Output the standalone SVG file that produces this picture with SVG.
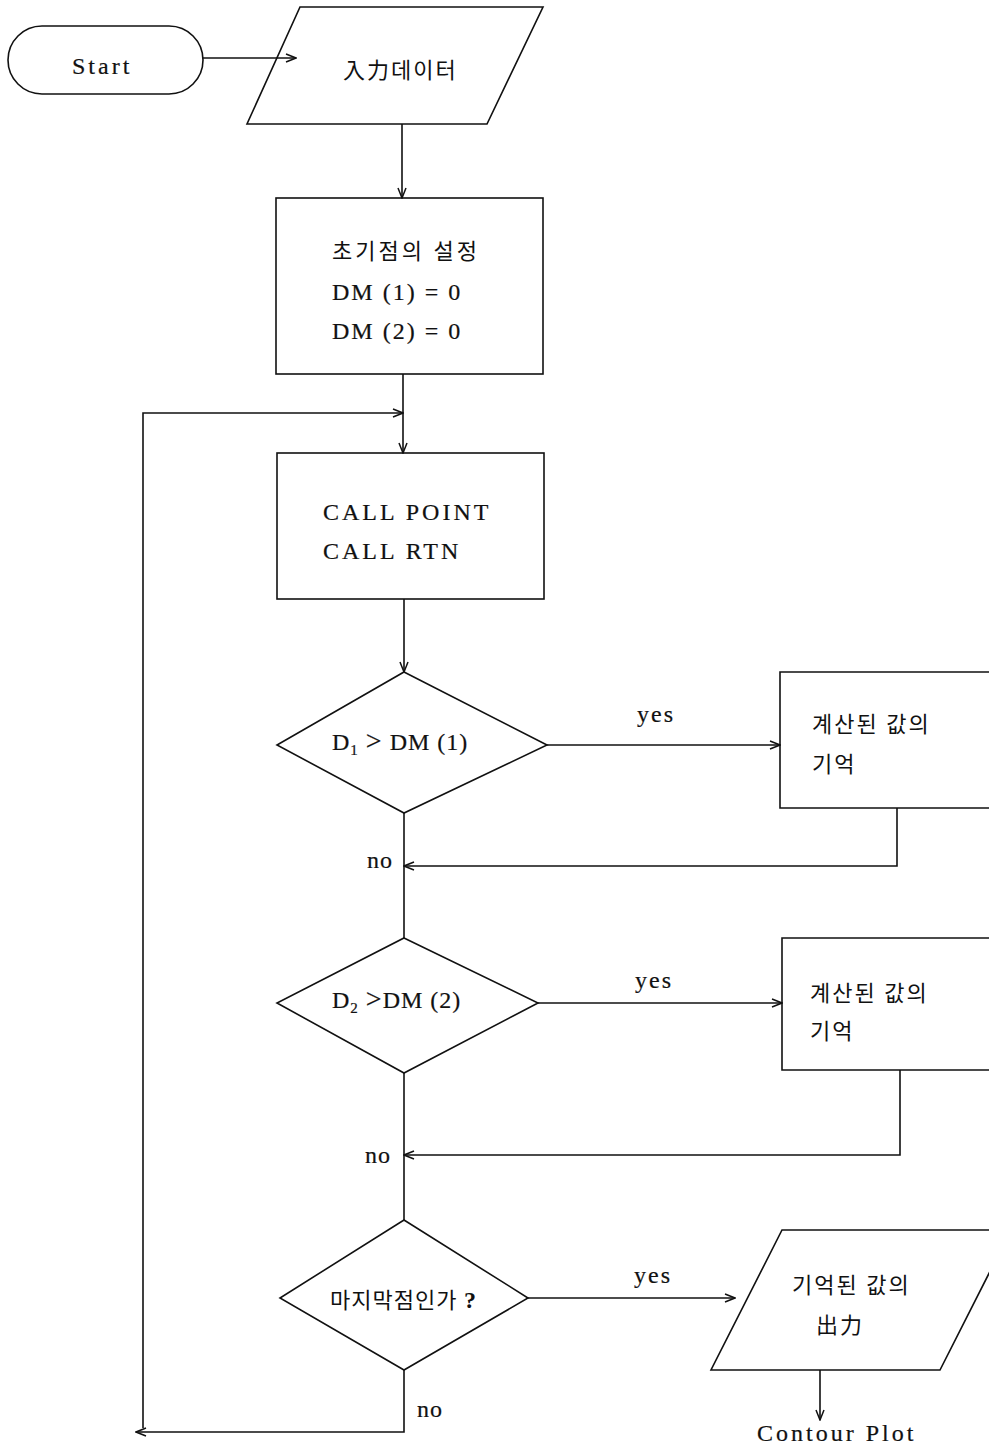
<svg xmlns="http://www.w3.org/2000/svg" width="989" height="1449" viewBox="0 0 989 1449">
<style>
.s{fill:none;stroke:#111;stroke-width:1.6}
.t{font-family:"Liberation Serif","Noto Sans CJK KR",serif;font-size:24px;fill:#111;stroke:#111;stroke-width:0.2}
.k{font-family:"Liberation Serif","Noto Sans CJK KR",serif;font-size:22px;fill:#111;letter-spacing:2px}
</style>
<defs>
<marker id="ah" markerWidth="12" markerHeight="10" refX="11" refY="5" orient="auto" markerUnits="userSpaceOnUse">
<path d="M1,1 L11,5 L1,9" fill="none" stroke="#111" stroke-width="1.5"/>
</marker>
</defs>
<rect width="989" height="1449" fill="#fff"/>
<g id="connectors" class="s">
<path d="M203,58 H296" marker-end="url(#ah)"/>
<path d="M402,124 V198" marker-end="url(#ah)"/>
<path d="M403,374 V453" marker-end="url(#ah)"/>
<path d="M143,1428 V413 H403" marker-end="url(#ah)"/>
<path d="M404,599 V672" marker-end="url(#ah)"/>
<path d="M547,745 H780" marker-end="url(#ah)"/>
<path d="M897,808 V866 H404" marker-end="url(#ah)"/>
<path d="M404,813 V938"/>
<path d="M538,1003 H782" marker-end="url(#ah)"/>
<path d="M900,1070 V1155 H404" marker-end="url(#ah)"/>
<path d="M404,1073 V1220"/>
<path d="M528,1298 H735" marker-end="url(#ah)"/>
<path d="M820,1370 V1420" marker-end="url(#ah)"/>
<path d="M404,1370 V1432 H136" marker-end="url(#ah)"/>
</g>
<g id="start">
<rect class="s" x="8" y="26" width="195" height="68" rx="34"/>
<text class="t" x="72" y="74" style="letter-spacing:3px">Start</text>
</g>
<g id="input">
<polygon class="s" points="300,7 543,7 487,124 247,124"/>
<text class="k" x="343" y="78">入力데이터</text>
</g>
<g id="init">
<rect class="s" x="276" y="198" width="267" height="176"/>
<text class="k" x="332" y="259" style="letter-spacing:3px">초기점의 설정</text>
<text class="t" x="332" y="300" style="letter-spacing:2px">DM (1) = 0</text>
<text class="t" x="332" y="339" style="letter-spacing:2px">DM (2) = 0</text>
</g>
<g id="call">
<rect class="s" x="277" y="453" width="267" height="146"/>
<text class="t" x="323" y="520" style="letter-spacing:3px">CALL  POINT</text>
<text class="t" x="323" y="559" style="letter-spacing:3px">CALL  RTN</text>
</g>
<g id="dec1">
<polygon class="s" points="404,672 547,745 404,813 277,745"/>
<text class="t" x="332" y="750" style="letter-spacing:1px">D<tspan font-size="15" dy="5">1</tspan><tspan dy="-5"> </tspan><tspan font-size="28">&gt;</tspan><tspan> DM (1)</tspan></text>
</g>
<g id="mem1">
<path class="s" d="M989,672 H780 V808 H989"/>
<text class="k" x="812" y="732">계산된 값의</text>
<text class="k" x="812" y="772">기억</text>
</g>
<g id="dec2">
<polygon class="s" points="404,938 538,1003 404,1073 277,1003"/>
<text class="t" x="332" y="1008" style="letter-spacing:1px">D<tspan font-size="15" dy="5">2</tspan><tspan dy="-5">  </tspan><tspan font-size="28">&gt;</tspan><tspan>DM (2)</tspan></text>
</g>
<g id="mem2">
<path class="s" d="M989,938 H782 V1070 H989"/>
<text class="k" x="810" y="1001">계산된 값의</text>
<text class="k" x="810" y="1039">기억</text>
</g>
<g id="dec3">
<polygon class="s" points="404,1220 528,1298 404,1370 280,1298"/>
<text class="k" x="330" y="1308" style="letter-spacing:1px">마지막점인가 <tspan font-weight="bold" font-size="24">?</tspan></text>
</g>
<g id="output">
<polygon class="s" points="782,1230 1011,1230 940,1370 711,1370"/>
<text class="k" x="792" y="1293">기억된 값의</text>
<text class="k" x="816" y="1333">出力</text>
</g>
<g id="labels">
<text class="t" x="637" y="722" style="letter-spacing:2px">yes</text>
<text class="t" x="367" y="868" style="letter-spacing:1px">no</text>
<text class="t" x="635" y="988" style="letter-spacing:2px">yes</text>
<text class="t" x="365" y="1163" style="letter-spacing:1px">no</text>
<text class="t" x="634" y="1283" style="letter-spacing:2px">yes</text>
<text class="t" x="417" y="1417" style="letter-spacing:1px">no</text>
<text class="t" x="757" y="1441" style="letter-spacing:3px">Contour  Plot</text>
</g>
</svg>
